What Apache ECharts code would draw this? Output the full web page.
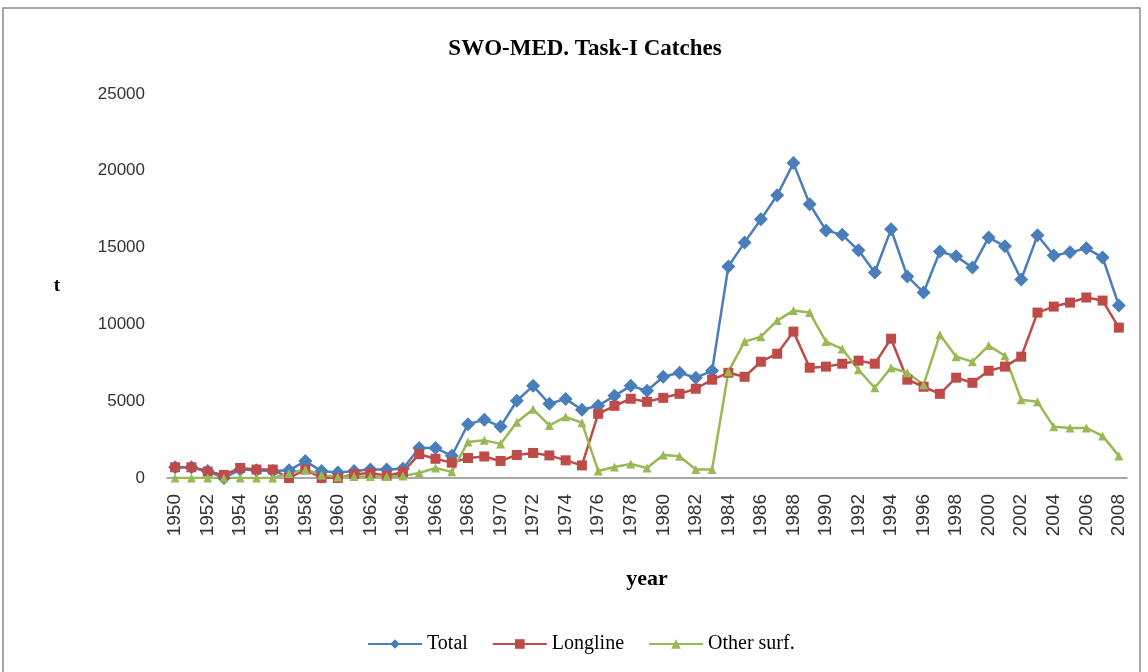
<!DOCTYPE html>
<html>
<head>
<meta charset="utf-8">
<title>SWO-MED. Task-I Catches</title>
<script src="https://cdn.jsdelivr.net/npm/echarts@6/dist/echarts.min.js"></script>
<style>
    html, body { margin: 0; padding: 0; background: #fff; }
    #chart { width: 1148px; height: 672px; }
</style>
</head>
<body>
<div id="chart"></div>
<script>
// years 1950 - 2008
const years = [];
for (let y = 1950; y <= 2008; y++) {
    years.push(String(y));
}

const total = [
    700, 700, 450, 0, 550, 500, 450, 500, 1100, 450,
    350, 450, 550, 550, 600, 1950, 1950, 1450, 3500, 3800,
    3350, 5030, 6000, 4830, 5150, 4440, 4700, 5350, 6000, 5680,
    6590, 6850, 6530, 6980, 13770, 15340, 16840, 18410, 20500, 17820,
    16120, 15830, 14820, 13380, 16190, 13120, 12080, 14750, 14430, 13710,
    15660, 15080, 12920, 15800, 14490, 14690, 14950, 14360, 11230
];

const longline = [
    700, 700, 420, 200, 650, 550, 550, 0, 550, 0,
    0, 250, 320, 150, 380, 1550, 1250, 1000, 1300, 1400,
    1110, 1500, 1630, 1470, 1150, 820, 4180, 4700, 5160, 4960,
    5220, 5480, 5810, 6400, 6850, 6590, 7570, 8090, 9530, 7180,
    7250, 7440, 7640, 7440, 9070, 6400, 5940, 5480, 6530, 6200,
    6980, 7250, 7900, 10770, 11160, 11420, 11750, 11550, 9790
];

const otherSurf = [
    0, 0, 0, 0, 0, 0, 0, 300, 550, 200,
    70, 100, 100, 100, 130, 330, 650, 400, 2350, 2450,
    2220, 3630, 4470, 3420, 3980, 3600, 460, 720, 910, 650,
    1500, 1420, 550, 550, 6920, 8880, 9200, 10250, 10900, 10770,
    8880, 8400, 7050, 5870, 7180, 6850, 6070, 9330, 7900, 7570,
    8620, 7960, 5090, 4960, 3330, 3260, 3260, 2740, 1440
];

const serif = "'Liberation Serif', 'Times New Roman', serif";
const sans = "'Liberation Sans', Arial, sans-serif";

const chart = echarts.init(document.getElementById('chart'));

function lineSeries(name, data, color, symbol, size) {
    return {
        name: name,
        type: 'line',
        data: data,
        symbol: symbol,
        symbolSize: size,
        showAllSymbol: true,
        lineStyle: { color: color, width: 2.5 },
        itemStyle: { color: color },
        emphasis: { disabled: true },
        animation: false
    };
}

chart.setOption({
    backgroundColor: '#fff',
    title: {
        text: 'SWO-MED. Task-I Catches',
        left: 580,
        top: 33,
        textAlign: 'center',
        textStyle: { fontFamily: serif, fontWeight: 'bold', fontSize: 23, color: '#000' }
    },
    grid: {
        left: 167,
        right: 21,
        top: 94,
        bottom: 194
    },
    legend: {
        bottom: 13,
        left: 362,
        itemGap: 24,
        itemWidth: 54,
        itemHeight: 12,
        textStyle: { fontFamily: serif, fontSize: 20, color: '#000' },
        data: ['Total', 'Longline', 'Other surf.']
    },
    xAxis: {
        type: 'category',
        data: years,
        boundaryGap: true,
        name: 'year',
        nameLocation: 'middle',
        nameGap: 90,
        nameTextStyle: { fontFamily: serif, fontWeight: 'bold', fontSize: 22, color: '#000' },
        axisLine: { lineStyle: { color: '#8a8a8a', width: 1.5 } },
        axisTick: { show: false },
        axisLabel: {
            interval: 1,
            rotate: 90,
            margin: 16,
            fontFamily: sans,
            fontSize: 19,
            color: '#333'
        }
    },
    yAxis: {
        type: 'value',
        min: 0,
        max: 25000,
        interval: 5000,
        name: 't',
        nameLocation: 'middle',
        nameRotate: 0,
        nameGap: 107,
        nameTextStyle: { fontFamily: serif, fontWeight: 'bold', fontSize: 19, color: '#000' },
        axisLine: { show: false },
        axisTick: { show: false },
        splitLine: { show: false },
        axisLabel: {
            margin: 22,
            fontFamily: sans,
            fontSize: 17,
            color: '#333',
            formatter: function (v) { return String(v); }
        }
    },
    graphic: [{
        type: 'rect',
        shape: { x: 3, y: 8, width: 1137, height: 700 },
        style: { fill: 'none', stroke: '#8c8c8c', lineWidth: 1.5 },
        silent: true
    }],
    series: [
        lineSeries('Total', total, '#4a7ebb', 'diamond', 14),
        lineSeries('Longline', longline, '#be4b48', 'rect', 10),
        lineSeries('Other surf.', otherSurf, '#98b954', 'triangle', 9)
    ]
});
</script>
</body>
</html>
